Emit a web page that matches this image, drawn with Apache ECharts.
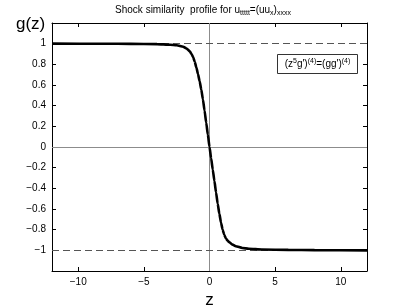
<!DOCTYPE html>
<html><head><meta charset="utf-8">
<script src="https://cdn.jsdelivr.net/npm/echarts@6/dist/echarts.min.js"></script>
<style>html,body{margin:0;padding:0;background:#fff}#c{width:406px;height:305px}</style>
</head><body><div id="c"></div>
<script>
const zValues = [-12,-8,-6,-4,-3,-2.5,-2,-1.75,-1.5,-1.375,-1.25,-1.125,-1,-0.875,-0.75,-0.625,-0.5,-0.375,-0.25,-0.125,0,0.125,0.25,0.375,0.5,0.625,0.75,0.875,1,1.125,1.25,1.375,1.5,1.75,2,2.5,3,4,6,8,12];
const gValues = [1.0,0.999,0.998,0.996,0.99,0.984,0.97,0.953,0.925,0.9,0.87,0.825,0.77,0.705,0.635,0.555,0.46,0.35,0.235,0.118,0,-0.11,-0.22,-0.33,-0.44,-0.55,-0.645,-0.73,-0.8,-0.85,-0.885,-0.905,-0.92,-0.945,-0.96,-0.977,-0.985,-0.992,-0.996,-0.998,-1.0];
const xTicks = [-10,-5,0,5,10];
const yTicks = [-1,-0.8,-0.6,-0.4,-0.2,0,0.2,0.4,0.6,0.8,1];
const refLevels = [1,-1];

const font = 'Liberation Sans';
const fmtY = v => { const s = (Math.round(v*10)/10).toString(); return s.replace('-', '\u2212'); };
const fmtX = v => String(v).replace('-', '\u2212');

const chart = echarts.init(document.getElementById('c'));
const frameAxis = {lineStyle:{color:'#000',width:1}};
chart.setOption({
  animation:false,
  textStyle:{fontFamily:font},
  title:{
    left:'center', top:-2,
    text:'Shock similarity  profile for u{s|ttttt}=(uu{s|x}){s|xxxx}',
    textStyle:{fontSize:10,fontWeight:'normal',color:'#000',fontFamily:font,
      rich:{s:{fontSize:7,fontFamily:font,color:'#000',verticalAlign:'bottom',padding:[7,0,0,0]}}}
  },
  grid:{left:52,right:39,top:23,bottom:34,outerBoundsMode:'none',containLabel:false},
  xAxis:[{
    type:'value',min:-12,max:12,position:'bottom',
    axisLine:{onZero:false,...frameAxis},
    axisTick:{inside:true,length:4,customValues:xTicks,lineStyle:{color:'#000'}},
    axisLabel:{customValues:xTicks,formatter:fmtX,color:'#000',fontSize:10,margin:6,fontFamily:font},
    splitLine:{show:false},
    name:'z',nameLocation:'middle',nameGap:20,nameTextStyle:{fontSize:17,color:'#000',fontFamily:font,verticalAlign:'top'}
  },{
    type:'value',min:-12,max:12,position:'top',
    axisLine:{onZero:false,...frameAxis},
    axisTick:{inside:true,length:4,customValues:xTicks,lineStyle:{color:'#000'}},
    axisLabel:{show:false},splitLine:{show:false}
  }],
  yAxis:[{
    type:'value',min:-1.2,max:1.2,position:'left',
    axisLine:{onZero:false,show:true,...frameAxis},
    axisTick:{show:true,inside:true,length:4,customValues:yTicks,lineStyle:{color:'#000'}},
    axisLabel:{customValues:yTicks,formatter:fmtY,color:'#000',fontSize:10,margin:6,fontFamily:font},
    splitLine:{show:false}
  },{
    type:'value',min:-1.2,max:1.2,position:'right',
    axisLine:{onZero:false,show:true,...frameAxis},
    axisTick:{show:true,inside:true,length:4,customValues:yTicks,lineStyle:{color:'#000'}},
    axisLabel:{show:false},splitLine:{show:false}
  }],
  graphic:[
    {type:'text',left:16,top:16,style:{text:'g(z)',fontSize:17,fontFamily:font,fill:'#000'}},
    {type:'group',left:277,top:54,children:[
      {type:'rect',shape:{x:0,y:0,width:80,height:19},style:{fill:'#fff',stroke:'#333',lineWidth:1}},
      {type:'text',x:40,y:10,style:{text:'(z{p|5}g\'){p|(4)}=(gg\'){p|(4)}',
        align:'center',verticalAlign:'middle',fontSize:10,fontFamily:font,fill:'#000',
        rich:{p:{fontSize:7,fontFamily:font,fill:'#000',verticalAlign:'top',padding:[0,0,6,0]}}}}
    ]}
  ],
  series:[{
    type:'line',xAxisIndex:0,yAxisIndex:0,
    data:zValues.map((z,i)=>[z,gValues[i]]),
    showSymbol:false,smooth:0.2,smoothMonotone:'x',
    lineStyle:{color:'#000',width:2.6},
    z:5,
    markLine:{
      silent:true,symbol:'none',label:{show:false},animation:false,
      data:[
        {xAxis:0,lineStyle:{color:'#8c8c8c',width:1,type:'solid'}},
        {yAxis:0,lineStyle:{color:'#8c8c8c',width:1,type:'solid'}},
        ...refLevels.map(v=>({yAxis:v,lineStyle:{color:'#555',width:1,type:[7,4]}}))
      ]
    }
  }]
});
</script></body></html>
